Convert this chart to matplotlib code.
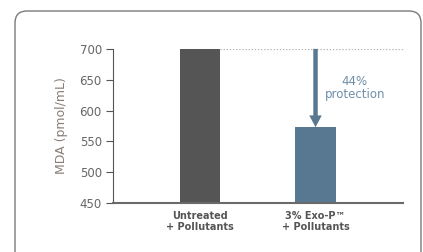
import matplotlib.pyplot as plt
from matplotlib.patches import FancyBboxPatch
from matplotlib.transforms import IdentityTransform

# data
categories = ['Untreated\n+ Pollutants', '3% Exo-P™\n+ Pollutants']
mda = [700, 573]
bar_colors = ['#555555', '#587891']
yticks = [450, 500, 550, 600, 650, 700]
note = '44%\nprotection'

plt.rcParams['font.family'] = ['DejaVu Sans']

fig = plt.figure(figsize=(4.23, 2.52), dpi=100)
ax = fig.add_axes([0.267, 0.194, 0.686, 0.612])

# rounded frame around the panel
frame = FancyBboxPatch((15, -30), 406, 271, boxstyle='round,pad=0,rounding_size=12',
                       transform=IdentityTransform(), fill=False, ec='#7a7a7a', lw=1.0)
fig.patches.append(frame)

x = [0, 1]
ax.bar(x, mda, width=0.35, color=bar_colors, bottom=0, zorder=2)
ax.set_ylim(450, 700)
ax.set_xlim(-0.753, 1.758)

# dotted reference line at untreated level
ax.plot([0.175, 1.758], [mda[0], mda[0]], ls=(0, (1, 1.5)), color='#b0b0b0', lw=0.9, zorder=1)

# arrow showing reduction
ax.annotate('', xy=(x[1], mda[1]), xytext=(x[1], mda[0]),
            arrowprops=dict(width=3.2, headwidth=9, headlength=8.5, color='#587891', shrink=0, lw=0))
ax.text(1.34, 637, note, ha='center', va='center', fontsize=8.5, color='#6f8ea8', linespacing=1.05)

ax.set_yticks(yticks)
ax.set_xticks(x)
ax.set_xticklabels(categories, fontsize=7, fontweight='bold', color='#555555', linespacing=1.1)
ax.tick_params(axis='x', length=0, pad=6)
ax.tick_params(axis='y', length=5, width=0.8, color='#555555', labelsize=8.5, labelcolor='#666666', pad=3)
ax.set_ylabel('MDA (pmol/mL)', fontsize=9, color='#8a7d75', labelpad=8)

for s in ['top', 'right']:
    ax.spines[s].set_visible(False)
ax.spines['left'].set_color('#555555')
ax.spines['left'].set_linewidth(0.8)
ax.spines['bottom'].set_color('#6a6a6a')
ax.spines['bottom'].set_linewidth(1.5)

fig.savefig('out.png', dpi=100)
